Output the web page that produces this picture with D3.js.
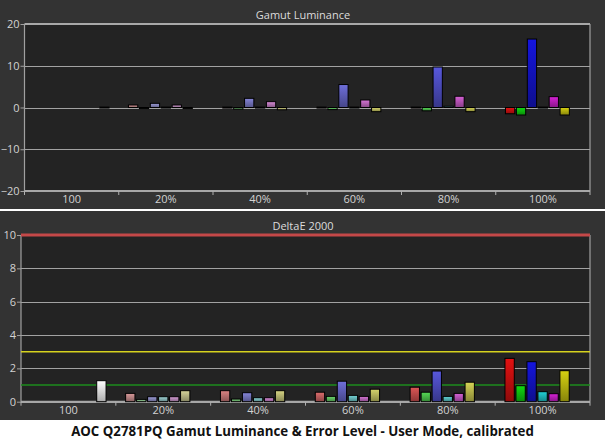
<!DOCTYPE html>
<html><head><meta charset="utf-8">
<script src="https://cdn.jsdelivr.net/npm/d3@7"></script>
<style>html,body{margin:0;padding:0;background:#fff;}svg{display:block;}</style>
</head><body>
<svg id="chart" width="605" height="441"></svg>
<script>
// ---------- data ----------
const groups = ["100", "20%", "40%", "60%", "80%", "100%"];
const levels = [1, 0.2, 0.4, 0.6, 0.8, 1];
const series = ["R", "G", "B", "C", "M", "Y", "W"];
const seriesColors = ["#d41010", "#10cc10", "#1414d0", "#20c4c8", "#c820c8", "#c8c410", "#ffffff"];

// Gamut luminance error (top)
const lumR = [null, 0.6, 0.1, 0.1, 0.1, -1.5];
const lumG = [null, -0.25, -0.4, -0.5, -0.8, -1.8];
const lumB = [null, 1.0, 2.2, 5.5, 9.7, 16.4];
const lumC = [null, 0.1, 0.1, 0.1, 0.3, 0.1];
const lumM = [null, 0.6, 1.4, 1.8, 2.7, 2.6];
const lumY = [null, -0.25, -0.55, -1.0, -1.0, -1.8];
const lumW = [0.1, null, null, null, null, null];

// DeltaE 2000 (bottom)
const deR = [null, 0.5, 0.66, 0.57, 0.87, 2.6];
const deG = [null, 0.14, 0.16, 0.32, 0.57, 0.96];
const deB = [null, 0.3, 0.54, 1.23, 1.84, 2.4];
const deC = [null, 0.3, 0.24, 0.38, 0.32, 0.6];
const deM = [null, 0.3, 0.24, 0.32, 0.5, 0.48];
const deY = [null, 0.66, 0.66, 0.75, 1.17, 1.86];
const deW = [1.26, null, null, null, null, null];

const topTicks = [-20, -10, 0, 10, 20];
const botTicks = [0, 2, 4, 6, 8, 10];
const thresholds = [10, 3, 1];
const thresholdColors = ["#c44848", "#d6d21e", "#1e8c1e"];

const topTitle = "Gamut Luminance";
const botTitle = "DeltaE 2000";
const caption = "AOC Q2781PQ Gamut Luminance & Error Level - User Mode, calibrated";

// ---------- drawing ----------
const svg = d3.select("#chart");
const defs = svg.append("defs");
const FONT = "'Open Sans', 'DejaVu Sans', sans-serif";

svg.append("rect").attr("x", 0).attr("y", 0).attr("width", 605).attr("height", 420).attr("fill", "#333333");
svg.append("rect").attr("x", 0).attr("y", 420).attr("width", 605).attr("height", 21).attr("fill", "#ffffff");

function build(values) {
  return groups.map((g, gi) => series.map((s, si) => ({ g, gi, s, si, v: values[si][gi] })));
}
const topData = build([lumR, lumG, lumB, lumC, lumM, lumY, lumW]);
const botData = build([deR, deG, deB, deC, deM, deY, deW]);

function barColor(si, gi) {
  if (series[si] === "W") return "#ffffff";
  const l = levels[gi];
  const t = l >= 1 ? 1 : 0.3 + 0.35 * (l - 0.2) / 0.6;
  return d3.interpolateRgb("#c6c6c6", seriesColors[si])(t);
}

function drawPanel(opt) {
  const { x0, x1, y0, y1, domain, ticks, title, titleY, labelY } = opt;
  const x = d3.scaleBand().domain(groups).range([x0, x1]);
  const inner = d3.scaleBand().domain(series).range([0, x.bandwidth()]).paddingInner(0.15).paddingOuter(0.89);
  const y = d3.scaleLinear().domain(domain).range([y1, y0]);
  const g = svg.append("g");

  g.append("rect").attr("x", x0).attr("y", y0).attr("width", x1 - x0).attr("height", y1 - y0).attr("fill", "#232323");

  // gridlines
  g.selectAll(".grid").data(ticks).join("line")
    .attr("x1", x0).attr("x2", x1).attr("y1", d => Math.round(y(d)) + 0.5).attr("y2", d => Math.round(y(d)) + 0.5)
    .attr("stroke", "#a2a2a2").attr("stroke-width", 1);

  // frame
  g.append("line").attr("x1", x0).attr("x2", x0).attr("y1", y0).attr("y2", y1).attr("stroke", "#a0a0a0").attr("stroke-width", 1.2);
  g.append("line").attr("x1", x1).attr("x2", x1).attr("y1", y0).attr("y2", y1).attr("stroke", "#a0a0a0").attr("stroke-width", 1.2);
  g.append("line").attr("x1", x0).attr("x2", x1).attr("y1", y1).attr("y2", y1).attr("stroke", "#a8a8a8").attr("stroke-width", 2);
  g.append("line").attr("x1", x0).attr("x2", x1).attr("y1", y0).attr("y2", y0).attr("stroke", "#a8a8a8").attr("stroke-width", 2);

  // y axis
  const yAxis = d3.axisLeft(y).tickValues(ticks).tickSize(4).tickPadding(1).tickFormat(d3.format("d"));
  const ya = g.append("g").attr("transform", `translate(${x0},0)`).call(yAxis);
  ya.select(".domain").remove();
  ya.selectAll("line").attr("stroke", "#a0a0a0");
  ya.selectAll("text").attr("fill", "#d2d2d2").style("font-family", FONT).style("font-size", "11px");

  // x axis: labels centered in groups, ticks at group boundaries
  const bounds = groups.map(d => x(d)).concat([x1]);
  g.selectAll(".xt").data(bounds).join("line")
    .attr("x1", d => d).attr("x2", d => d).attr("y1", y1).attr("y2", y1 + 4)
    .attr("stroke", "#b0b0b0").attr("stroke-width", 1);
  g.selectAll(".xl").data(groups).join("text")
    .attr("x", d => x(d) + x.bandwidth() / 2).attr("y", labelY)
    .attr("text-anchor", "middle").attr("fill", "#d2d2d2")
    .style("font-family", FONT).style("font-size", "11px").text(d => d);

  // title
  g.append("text").attr("x", 303).attr("y", titleY).attr("text-anchor", "middle")
    .attr("fill", "#dcdcdc").style("font-family", FONT).style("font-size", "11px").text(title);

  return { x, inner, y, g };
}

function drawBars(p, data, id) {
  const flat = data.flat().filter(d => d.v !== null);
  flat.forEach(d => {
    const c = barColor(d.si, d.gi);
    const grad = defs.append("linearGradient").attr("id", `${id}-${d.gi}-${d.si}`)
      .attr("x1", 0).attr("y1", 0).attr("x2", 0).attr("y2", 1);
    grad.append("stop").attr("offset", "0%").attr("stop-color", d3.rgb(c).brighter(0.2));
    grad.append("stop").attr("offset", "100%").attr("stop-color", d3.rgb(c).darker(1.1));
  });
  p.g.selectAll(".bar").data(flat).join("rect")
    .attr("x", d => p.x(d.g) + p.inner(d.s))
    .attr("width", p.inner.bandwidth())
    .attr("y", d => Math.min(p.y(d.v), p.y(0)))
    .attr("height", d => Math.max(Math.abs(p.y(d.v) - p.y(0)), 1))
    .attr("fill", d => `url(#${id}-${d.gi}-${d.si})`)
    .attr("stroke", "#000").attr("stroke-width", 1);
}

// top panel
const pTop = drawPanel({ x0: 24.5, x1: 590, y0: 24, y1: 191, domain: [-20, 20], ticks: topTicks,
  title: topTitle, titleY: 19, labelY: 203 });
drawBars(pTop, topData, "t");

// separator
svg.append("line").attr("x1", 0).attr("x2", 605).attr("y1", 210).attr("y2", 210).attr("stroke", "#ffffff").attr("stroke-width", 2);

// bottom panel
const pBot = drawPanel({ x0: 21, x1: 590, y0: 235, y1: 401.7, domain: [0, 10], ticks: botTicks,
  title: botTitle, titleY: 230, labelY: 414 });
// threshold lines
pBot.g.selectAll(".thr").data(thresholds).join("line")
  .attr("x1", 21).attr("x2", 590)
  .attr("y1", d => pBot.y(d)).attr("y2", d => pBot.y(d))
  .attr("stroke", (d, i) => thresholdColors[i])
  .attr("stroke-width", (d, i) => i === 0 ? 3 : 1.5);
drawBars(pBot, botData, "b");

// caption
const cap = svg.append("text").attr("x", 302.5).attr("y", 436).attr("text-anchor", "middle")
  .attr("fill", "#111").style("font-family", FONT).style("font-weight", "bold").style("font-size", "13px").text(caption);
const len = cap.node().getComputedTextLength();
cap.style("font-size", (13 * 463 / len).toFixed(2) + "px");
</script>
</body></html>
